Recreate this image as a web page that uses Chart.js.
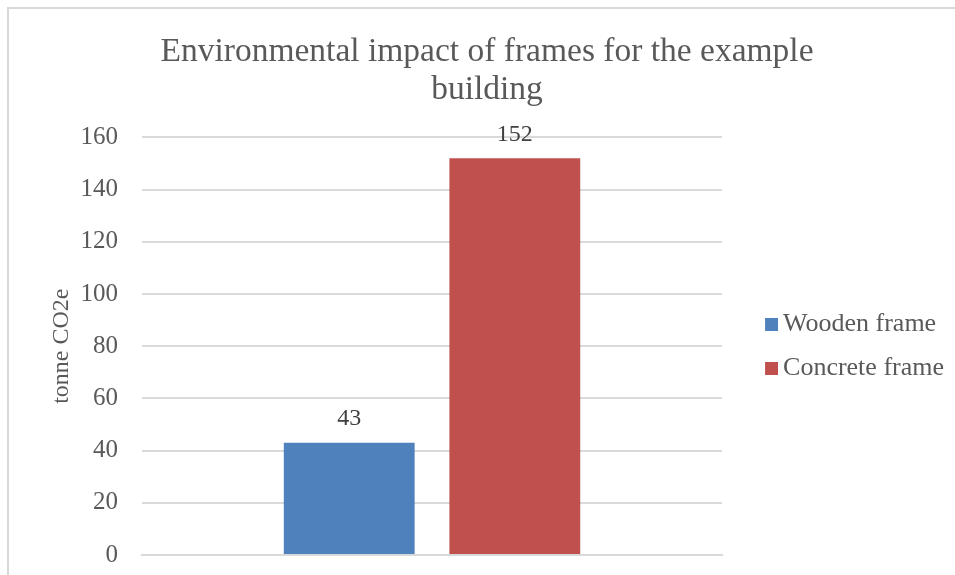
<!DOCTYPE html>
<html>
<head>
<meta charset="utf-8">
<script src="https://cdn.jsdelivr.net/npm/chart.js@4/dist/chart.umd.min.js"></script>
<style>
  html, body { margin: 0; padding: 0; background: #fff; }
  #wrap { position: relative; width: 955px; height: 575px; overflow: hidden; }
  #frame { position: absolute; left: 7px; top: 7px; width: 960px; height: 580px;
           border-left: 2px solid #d9d9d9; border-top: 2px solid #d9d9d9; box-sizing: border-box; pointer-events: none; }
  canvas { position: absolute; left: 0; top: 0; }
</style>
</head>
<body>
<div id="wrap">
  <canvas id="c" width="955" height="575"></canvas>
  <div id="frame"></div>
</div>
<script>
const titleLines = ["Environmental impact of frames for the example", "building"];
const categories = [""];
const seriesNames = ["Wooden frame", "Concrete frame"];
const woodenValues = [43];
const concreteValues = [152];
const yTicks = [0, 20, 40, 60, 80, 100, 120, 140, 160];
const yAxisTitle = "tonne CO2e";
const seriesColors = ["#4F81BD", "#C0504D"];

const FONT = "'Liberation Serif', 'DejaVu Serif', serif";
const TEXT = "#595959";

// legend marker: square sitting near the label text
function makeMarker(color) {
  const c = document.createElement('canvas');
  c.width = 46; c.height = 13;
  const g = c.getContext('2d');
  g.fillStyle = color;
  g.fillRect(33, 0, 13, 13);
  return c;
}
const markers = seriesColors.map(makeMarker);

const valueLabels = {
  id: 'valueLabels',
  afterDatasetsDraw(chart) {
    const ctx = chart.ctx;
    ctx.save();
    ctx.font = "24px " + FONT;
    ctx.fillStyle = "#404040";
    ctx.textAlign = "center";
    ctx.textBaseline = "middle";
    chart.data.datasets.forEach((ds, i) => {
      const meta = chart.getDatasetMeta(i);
      meta.data.forEach((bar, j) => {
        ctx.fillText(String(ds.data[j]), bar.x, bar.y - 24);
      });
    });
    ctx.restore();
  }
};

new Chart(document.getElementById('c'), {
  type: 'bar',
  data: {
    labels: categories,
    datasets: [
      { label: seriesNames[0], data: woodenValues, backgroundColor: seriesColors[0],
        categoryPercentage: 0.571, barPercentage: 0.79 },
      { label: seriesNames[1], data: concreteValues, backgroundColor: seriesColors[1],
        categoryPercentage: 0.571, barPercentage: 0.79 }
    ]
  },
  options: {
    responsive: false,
    animation: false,
    devicePixelRatio: 1,
    layout: { padding: { left: 20, right: 1, top: 34, bottom: 20 } },
    plugins: {
      title: {
        display: true, text: titleLines, color: TEXT,
        font: { family: FONT, size: 33.5, weight: 'normal', lineHeight: 1.11 },
        padding: { top: 0, bottom: 29 }
      },
      legend: {
        position: 'right', align: 'center',
        title: { display: true, text: ' ', font: { size: 10 }, padding: { top: 52, bottom: 40 } },
        labels: {
          color: TEXT, font: { family: FONT, size: 26 },
          usePointStyle: true, pointStyleWidth: 30,
          boxWidth: 13, boxHeight: 13, padding: 18,
          generateLabels(chart) {
            const items = Chart.defaults.plugins.legend.labels.generateLabels(chart);
            items.forEach((it, i) => { it.pointStyle = markers[i]; });
            return items;
          }
        }
      },
      tooltip: { enabled: false }
    },
    scales: {
      x: {
        grid: { display: false, drawTicks: false },
        border: { display: true, color: "#d9d9d9", width: 2 },
        ticks: { display: false }
      },
      y: {
        min: yTicks[0], max: yTicks[yTicks.length - 1],
        afterBuildTicks(axis) { axis.ticks = yTicks.map(v => ({ value: v })); },
        afterFit(scale) { scale.paddingBottom = 0; scale.width = 122; },
        grid: { color: "#d9d9d9", lineWidth: 2, drawTicks: false },
        border: { display: false },
        ticks: { color: TEXT, font: { family: FONT, size: 25 }, padding: 24 },
        title: { display: true, text: yAxisTitle, color: TEXT,
                 font: { family: FONT, size: 24 }, padding: { top: 27, bottom: 0 } }
      }
    }
  },
  plugins: [valueLabels]
});
</script>
</body>
</html>
